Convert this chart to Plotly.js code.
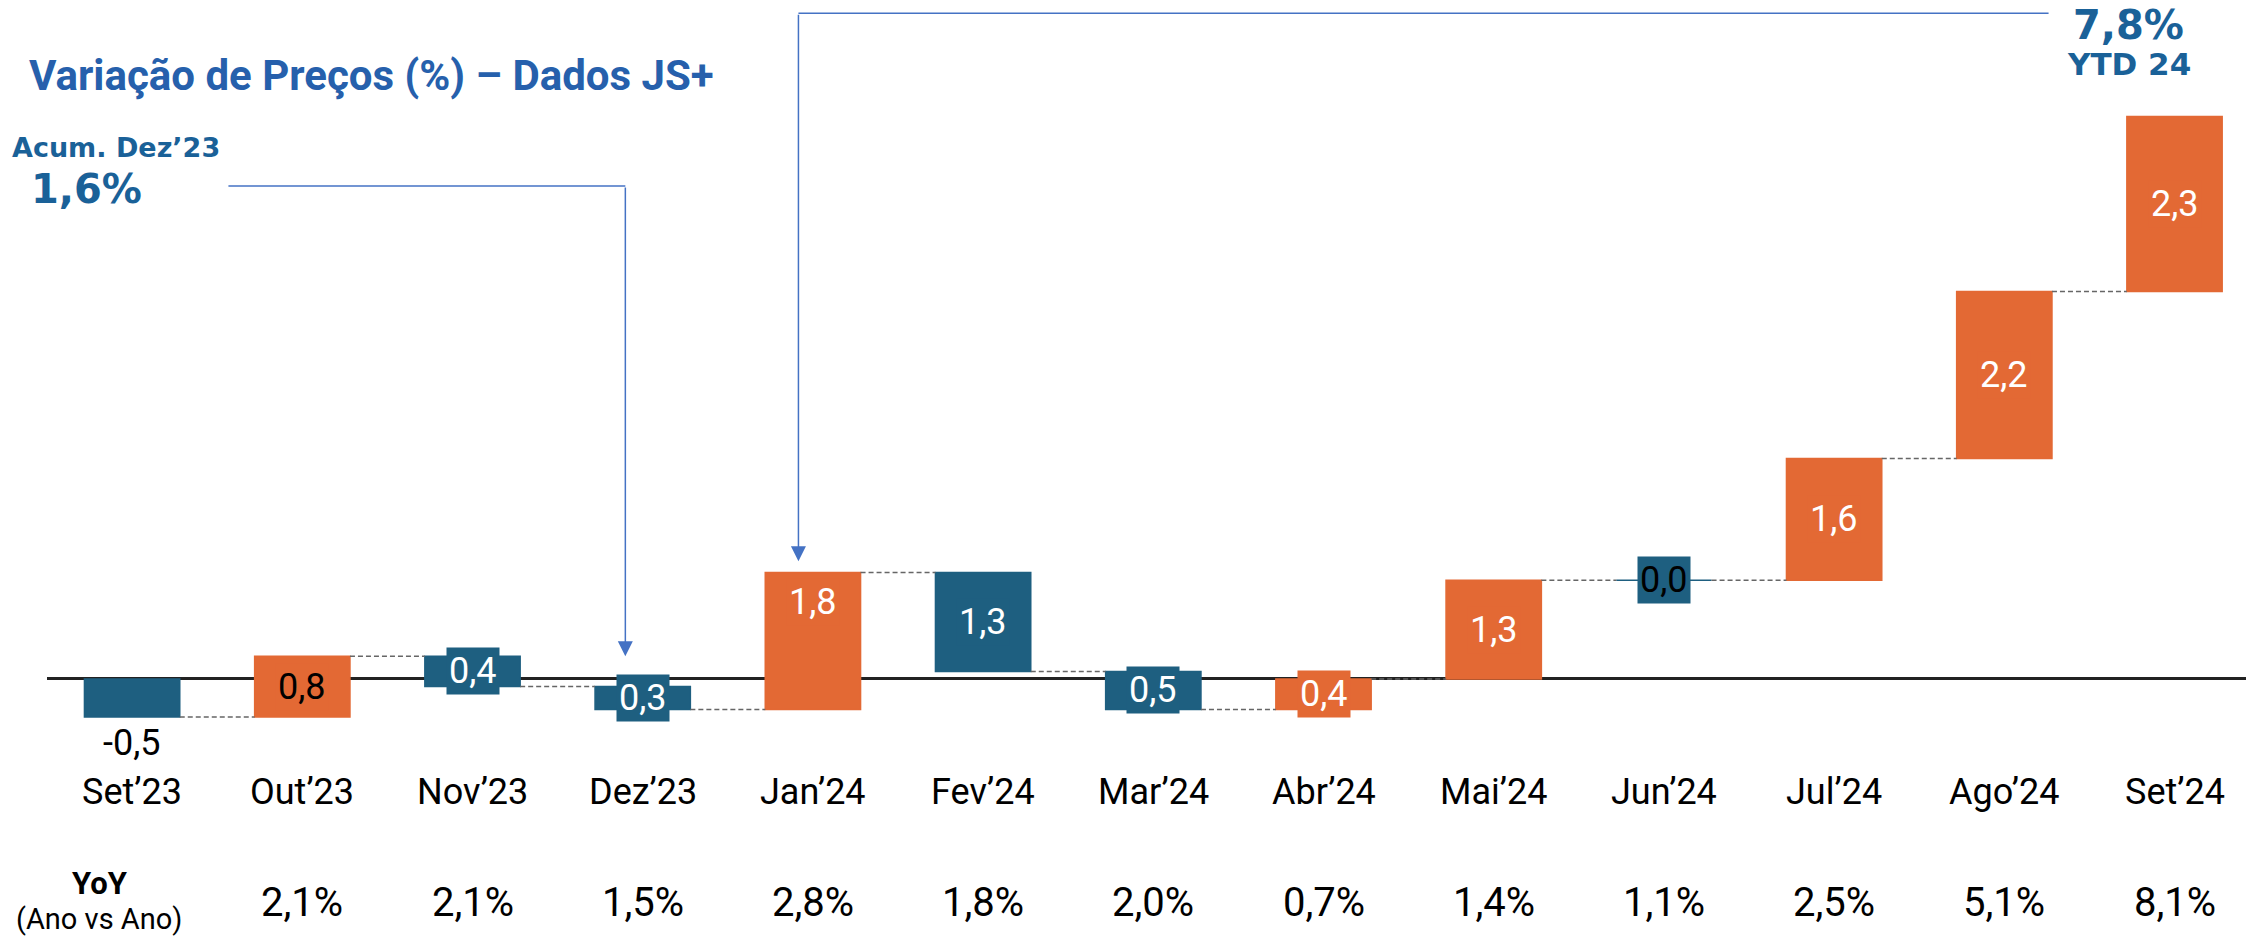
<!DOCTYPE html>
<html>
<head>
<meta charset="utf-8">
<script src="https://cdn.plot.ly/plotly-3.0.1.min.js"></script>
<style>html,body{margin:0;padding:0;background:#fff;overflow:hidden}</style>
</head>
<body>
<div id="chart" style="width:2246px;height:938px"></div>
<script>
// ---- data ----
const categories = ["Set’23","Out’23","Nov’23","Dez’23","Jan’24","Fev’24","Mar’24","Abr’24","Mai’24","Jun’24","Jul’24","Ago’24","Set’24"];
const monthlyChange = [-0.5, 0.8, -0.4, -0.3, 1.8, -1.3, -0.5, 0.4, 1.3, 0.0, 1.6, 2.2, 2.3];
const yoyChange = [null, 2.1, 2.1, 1.5, 2.8, 1.8, 2.0, 0.7, 1.4, 1.1, 2.5, 5.1, 8.1];
const acumDez23 = 1.6;
const ytd24 = 7.8;
const titleText = "Variação de Preços (%) – Dados JS+";

// ---- styles ----
const ORANGE = "#E36934";
const BLUE = "#1E5F80";
const ACCENT = "#1A6198";
const ARROW = "#4472C4";
const BAR_W = 0.56;
const ML = 47, PW = 2246 - 47;   // plot-area left edge and width (px)
const darkLabelIdx = [1, 9];     // labels drawn in black
const outsideLabelIdx = [0];     // labels drawn below the bar
const labelShift = {4: 39};      // extra vertical offset (px)

const fmt = v => v.toFixed(1).replace('.', ',');
const px2paperX = p => (p - ML) / PW;
const px2paperY = p => 1 - p / 938;

const idx = categories.map((_, i) => i);
const starts = [];
const ends = [];
let run = 0;
monthlyChange.forEach(v => { starts.push(run); run += v; ends.push(run); });
const colors = monthlyChange.map(v => v > 0 ? ORANGE : BLUE);

const barTrace = {
  type: 'bar', x: idx, y: monthlyChange, base: starts, width: BAR_W,
  marker: {color: colors, line: {color: colors, width: 1.5}},
  hoverinfo: 'skip', showlegend: false
};

const cx = [], cy = [];
for (let i = 0; i < idx.length - 1; i++) {
  cx.push(i + BAR_W / 2, i + 1 - BAR_W / 2, null);
  cy.push(ends[i], ends[i], null);
}
const connTrace = {
  type: 'scatter', mode: 'lines', x: cx, y: cy,
  line: {color: '#666', width: 1.5, dash: '5px,3px'},
  hoverinfo: 'skip', showlegend: false
};

const annotations = [];
// value labels
monthlyChange.forEach((v, i) => {
  const outside = outsideLabelIdx.includes(i);
  annotations.push({
    x: i, y: outside ? Math.min(starts[i], ends[i]) : starts[i] + v / 2,
    xref: 'x', yref: 'y', showarrow: false, xanchor: 'center',
    yanchor: outside ? 'top' : 'middle',
    yshift: outside ? -2 : (labelShift[i] || 0),
    text: outside ? fmt(v) : fmt(Math.abs(v)),
    font: {family: 'Roboto', size: 36, color: darkLabelIdx.includes(i) || outside ? '#000' : '#fff'},
    bgcolor: outside ? 'rgba(0,0,0,0)' : colors[i],
    borderpad: 2
  });
});
// category labels
categories.forEach((c, i) => {
  annotations.push({x: i, y: px2paperY(792), xref: 'x', yref: 'paper', showarrow: false,
    xanchor: 'center', yanchor: 'middle', text: c, font: {family: 'Roboto', size: 36, color: '#000'}});
});
// YoY row
yoyChange.forEach((v, i) => {
  if (v === null) return;
  annotations.push({x: i, y: px2paperY(902), xref: 'x', yref: 'paper', showarrow: false,
    xanchor: 'center', yanchor: 'middle', text: fmt(v) + '%', font: {family: 'Roboto', size: 40, color: '#000'}});
});
annotations.push({x: px2paperX(100), y: px2paperY(883), xref: 'paper', yref: 'paper', showarrow: false,
  xanchor: 'center', yanchor: 'middle', text: '<b>YoY</b>', font: {family: 'Roboto', size: 31, color: '#000'}});
annotations.push({x: px2paperX(99), y: px2paperY(919), xref: 'paper', yref: 'paper', showarrow: false,
  xanchor: 'center', yanchor: 'middle', text: '(Ano vs Ano)', font: {family: 'Roboto', size: 29, color: '#000'}});

// callouts
annotations.push({x: px2paperX(116), y: px2paperY(147), xref: 'paper', yref: 'paper', showarrow: false,
  xanchor: 'center', yanchor: 'middle', text: '<b>Acum. ' + categories[3] + '</b>',
  font: {family: 'DejaVu Sans', size: 27, color: ACCENT}});
annotations.push({x: px2paperX(86), y: px2paperY(189), xref: 'paper', yref: 'paper', showarrow: false,
  xanchor: 'center', yanchor: 'middle', text: '<b>' + fmt(acumDez23) + '%</b>',
  font: {family: 'DejaVu Sans', size: 40, color: ACCENT}});
annotations.push({x: px2paperX(2128), y: px2paperY(25), xref: 'paper', yref: 'paper', showarrow: false,
  xanchor: 'center', yanchor: 'middle', text: '<b>' + fmt(ytd24) + '%</b>',
  font: {family: 'DejaVu Sans', size: 40, color: ACCENT}});
annotations.push({x: px2paperX(2129), y: px2paperY(64), xref: 'paper', yref: 'paper', showarrow: false,
  xanchor: 'center', yanchor: 'middle', text: '<b>YTD 24</b>',
  font: {family: 'DejaVu Sans', size: 31, color: ACCENT}});

// arrows (vertical parts)
annotations.push({x: 2.898, y: 0.30, ax: 2.898, ay: 6.487, xref: 'x', yref: 'y', axref: 'x', ayref: 'y',
  showarrow: true, arrowhead: 2, arrowsize: 2, arrowwidth: 1.5, arrowcolor: ARROW, text: ''});
annotations.push({x: 3.915, y: 1.55, ax: 3.915, ay: 8.76, xref: 'x', yref: 'y', axref: 'x', ayref: 'y',
  showarrow: true, arrowhead: 2, arrowsize: 2, arrowwidth: 1.5, arrowcolor: ARROW, text: ''});

const shapes = [
  {type: 'line', xref: 'x', yref: 'y', x0: 0.566, x1: 2.898, y0: 6.487, y1: 6.487, line: {color: ARROW, width: 1.5}},
  {type: 'line', xref: 'x', yref: 'y', x0: 3.915, x1: 11.26, y0: 8.76, y1: 8.76, line: {color: ARROW, width: 1.5}}
];

const layout = {
  width: 2246, height: 938,
  margin: {l: ML, r: 0, t: 0, b: 0, pad: 0},
  paper_bgcolor: '#fff', plot_bgcolor: '#fff',
  title: {text: '<b>' + titleText + '</b>', x: 29 / 2246, xanchor: 'left', y: 1 - 75 / 938, yanchor: 'middle',
    font: {family: 'Roboto', size: 42, color: '#2660AC'}},
  xaxis: {range: [-0.5, 12.42], showgrid: false, zeroline: false, showticklabels: false, showline: false, fixedrange: true},
  yaxis: {range: [-3.408, 8.934], showgrid: false, zeroline: true, zerolinecolor: '#222', zerolinewidth: 3,
    showticklabels: false, showline: false, fixedrange: true},
  annotations: annotations,
  shapes: shapes,
  bargap: 0
};

Plotly.newPlot('chart', [barTrace, connTrace], layout, {staticPlot: true, displayModeBar: false});
</script>
</body>
</html>
